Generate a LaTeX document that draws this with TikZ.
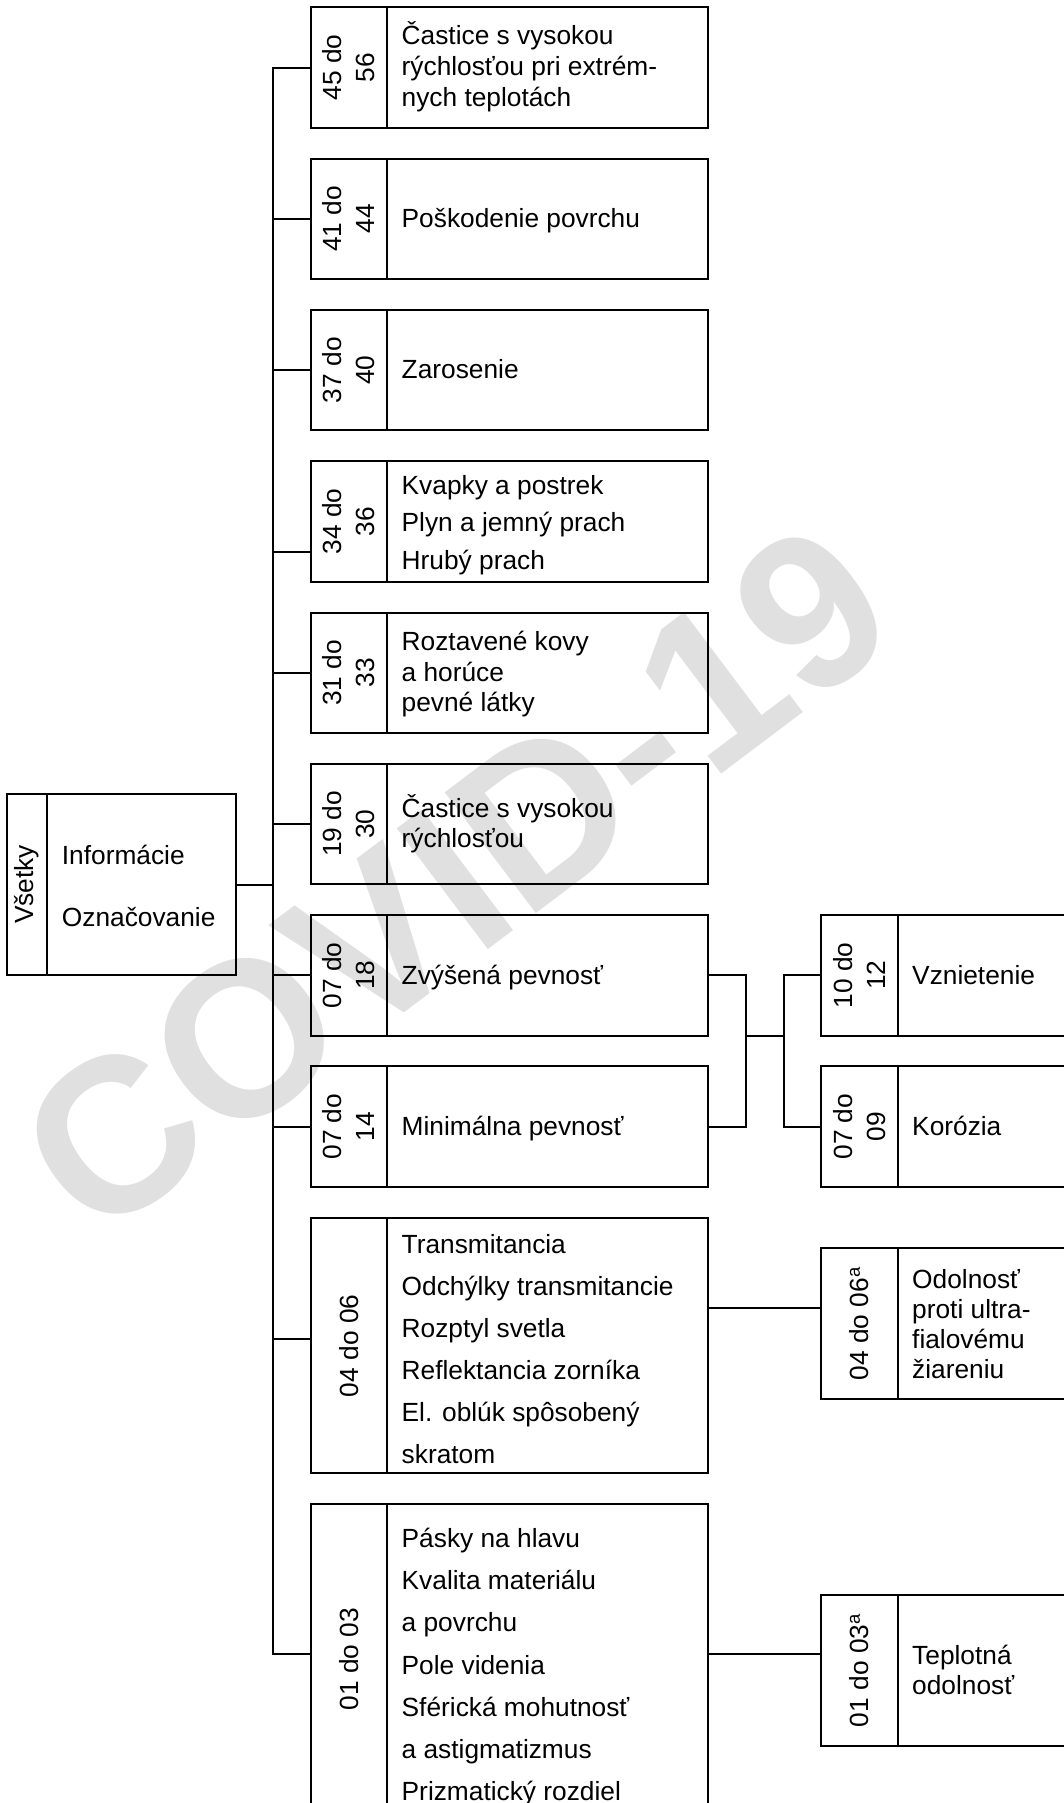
\documentclass[tikz,border=0pt]{standalone}
\usepackage{fontspec}
\setmainfont{Liberation Sans}
\usetikzlibrary{calc}
\begin{document}
\begin{tikzpicture}[x=1pt,y=-1pt,
  ln/.style={line width=2pt},
  cell/.style={draw, line width=2pt, inner sep=0pt, outer sep=0pt},
  codecol/.style={cell, minimum width=75.5pt},
  txtcol/.style={cell, minimum width=321.5pt, anchor=west},
  rcode/.style={cell, minimum width=76.8pt},
  rtxt/.style={cell, minimum width=220pt, anchor=west},
  rotlbl/.style={rotate=90, align=center, inner sep=0pt, font=\fontsize{26.3}{33}\selectfont},
  txt/.style={anchor=base west, align=left, inner sep=0pt, font=\fontsize{26.3}{31.2}\selectfont},
  wm/.style={rotate=37, text=black!12, inner sep=0pt, font=\fontsize{220}{220}\selectfont\bfseries}]
\path[use as bounding box] (0,0) rectangle (1064,1803);
\clip (0,0) rectangle (1064,1803);

% watermark
\node[wm] (wm) at (455,880) {COVID-19};

% root box
\node[cell, minimum width=39.7pt, minimum height=181pt] (c0) at (27.15,884.5) {};
\node[cell, minimum width=189pt, minimum height=181pt, anchor=west] (t0) at (c0.east) {};
\node[rotlbl] (l0) at (c0) {Všetky};
\node[txt, font=\fontsize{26.3}{61.5}\selectfont] (x0) at (61.7,926) {Informácie\\Označovanie};

% left column boxes (text anchors at the baseline of the last line)
\node[codecol, minimum height=120.5pt] (c1) at (348.75,67.55) {};
\node[txtcol, minimum height=120.5pt] (t1) at (c1.east) {};
\node[rotlbl] (l1) at (c1) {45 do\\56};
\node[txt] (x1) at (401.5,106.9) {Častice s vysokou\\rýchlosťou pri extrém-\\nych teplotách};

\node[codecol, minimum height=120.5pt] (c2) at (348.75,218.85) {};
\node[txtcol, minimum height=120.5pt] (t2) at (c2.east) {};
\node[rotlbl] (l2) at (c2) {41 do\\44};
\node[txt] (x2) at (401.5,227.6) {Poškodenie povrchu};

\node[codecol, minimum height=120.5pt] (c3) at (348.75,370.15) {};
\node[txtcol, minimum height=120.5pt] (t3) at (c3.east) {};
\node[rotlbl] (l3) at (c3) {37 do\\40};
\node[txt] (x3) at (401.5,378.5) {Zarosenie};

\node[codecol, minimum height=120.5pt] (c4) at (348.75,521.45) {};
\node[txtcol, minimum height=120.5pt] (t4) at (c4.east) {};
\node[rotlbl] (l4) at (c4) {34 do\\36};
\node[txt, font=\fontsize{26.3}{37.7}\selectfont] (x4) at (401.5,569.4) {Kvapky a postrek\\Plyn a jemný prach\\Hrubý prach};

\node[codecol, minimum height=120.5pt] (c5) at (348.75,672.75) {};
\node[txtcol, minimum height=120.5pt] (t5) at (c5.east) {};
\node[rotlbl] (l5) at (c5) {31 do\\33};
\node[txt, font=\fontsize{26.3}{30.5}\selectfont] (x5) at (401.5,711.7) {Roztavené kovy\\a horúce\\pevné látky};

\node[codecol, minimum height=120.5pt] (c6) at (348.75,824.05) {};
\node[txtcol, minimum height=120.5pt] (t6) at (c6.east) {};
\node[rotlbl] (l6) at (c6) {19 do\\30};
\node[txt, font=\fontsize{26.3}{30}\selectfont] (x6) at (401.5,847.7) {Častice s vysokou\\rýchlosťou};

\node[codecol, minimum height=120.5pt] (c7) at (348.75,975.35) {};
\node[txtcol, minimum height=120.5pt] (t7) at (c7.east) {};
\node[rotlbl] (l7) at (c7) {07 do\\18};
\node[txt] (x7) at (401.5,984) {Zvýšená pevnosť};

\node[codecol, minimum height=120.5pt] (c8) at (348.75,1126.65) {};
\node[txtcol, minimum height=120.5pt] (t8) at (c8.east) {};
\node[rotlbl] (l8) at (c8) {07 do\\14};
\node[txt] (x8) at (401.5,1135.4) {Minimálna pevnosť};

\node[codecol, minimum height=255pt] (c9) at (348.75,1345.8) {};
\node[txtcol, minimum height=255pt] (t9) at (c9.east) {};
\node[rotlbl] (l9) at (c9) {04 do 06};
\node[txt, font=\fontsize{26.3}{42}\selectfont] (x9) at (401.5,1463.3) {Transmitancia\\Odchýlky transmitancie\\Rozptyl svetla\\Reflektancia zorníka\\El. oblúk spôsobený\\skratom};

\node[codecol, minimum height=310pt] (c10) at (348.75,1659) {};
\node[txtcol, minimum height=310pt] (t10) at (c10.east) {};
\node[rotlbl] (l10) at (c10) {01 do 03};
\node[txt, font=\fontsize{26.3}{42.2}\selectfont] (x10) at (401.5,1800.7) {Pásky na hlavu\\Kvalita materiálu\\a povrchu\\Pole videnia\\Sférická mohutnosť\\a astigmatizmus\\Prizmatický rozdiel};

% right column boxes
\node[rcode, minimum height=120.5pt] (rc1) at (859.4,975.35) {};
\node[rtxt, minimum height=120.5pt] (r1) at (rc1.east) {};
\node[rotlbl] (rl1) at (rc1) {10 do\\12};
\node[txt] (rx1) at (912,984) {Vznietenie};

\node[rcode, minimum height=120.5pt] (rc2) at (859.4,1126.65) {};
\node[rtxt, minimum height=120.5pt] (r2) at (rc2.east) {};
\node[rotlbl] (rl2) at (rc2) {07 do\\09};
\node[txt] (rx2) at (912,1135.4) {Korózia};

\node[rcode, minimum height=151pt] (rc3) at (859.4,1323.8) {};
\node[rtxt, minimum height=151pt] (r3) at (rc3.east) {};
\node[rotlbl] (rl3) at (rc3) {04 do 06\textsuperscript{a}};
\node[txt, font=\fontsize{26.3}{30}\selectfont] (rx3) at (912,1378) {Odolnosť\\proti ultra-\\fialovému\\žiareniu};

\node[rcode, minimum height=150.4pt] (rc4) at (859.4,1670.5) {};
\node[rtxt, minimum height=150.4pt] (r4) at (rc4.east) {};
\node[rotlbl] (rl4) at (rc4) {01 do 03\textsuperscript{a}};
\node[txt, font=\fontsize{26.3}{30}\selectfont] (rx4) at (912,1694.5) {Teplotná\\odolnosť};

% connectors
\coordinate (tk) at (273.3,0);
\coordinate (p4) at (311,552);
\coordinate (p9) at (311,1339);
\coordinate (p10) at (311,1654);
\draw[ln] (c1.west) -| (tk |- p10) -- (p10);
\draw[ln] (c2.west) -- (tk |- c2.west);
\draw[ln] (c3.west) -- (tk |- c3.west);
\draw[ln] (p4) -- (tk |- p4);
\draw[ln] (c5.west) -- (tk |- c5.west);
\draw[ln] (c6.west) -- (tk |- c6.west);
\draw[ln] (c7.west) -- (tk |- c7.west);
\draw[ln] (c8.west) -- (tk |- c8.west);
\draw[ln] (p9) -- (tk |- p9);
\draw[ln] (t0.east) -- (tk |- t0.east);

\coordinate (ja) at (745.7,1036);
\coordinate (jb) at (784,1036);
\draw[ln] (t7.east) -| (ja) |- (t8.east);
\draw[ln] (ja) -- (jb);
\draw[ln] (rc1.west) -| (jb) |- (rc2.west);

\coordinate (q9) at (708,1308.3);
\coordinate (q10) at (708,1654);
\draw[ln] (q9) -- (q9 -| rc3.west);
\draw[ln] (q10) -- (q10 -| rc4.west);
\end{tikzpicture}
\end{document}
